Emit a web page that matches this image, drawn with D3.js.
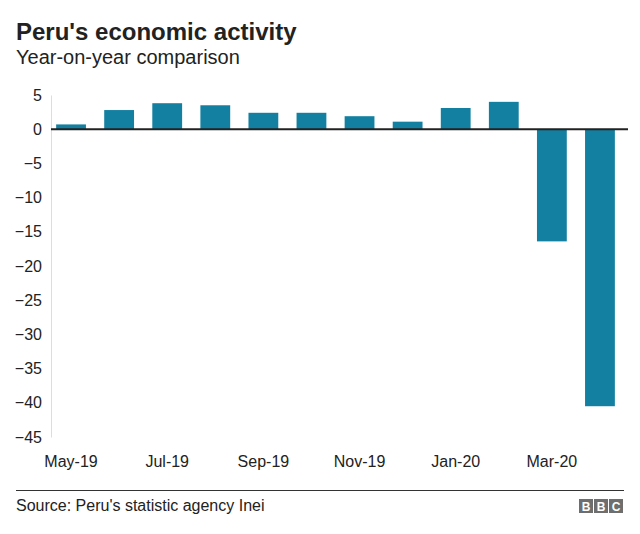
<!DOCTYPE html>
<html><head><meta charset="utf-8">
<script src="https://cdn.jsdelivr.net/npm/d3@7"></script>
<style>body{margin:0;background:#fff;}svg{display:block;font-family:"Liberation Sans",Arial,sans-serif;}</style>
</head><body>
<script>
const months = ["May-19","Jun-19","Jul-19","Aug-19","Sep-19","Oct-19","Nov-19","Dec-19","Jan-20","Feb-20","Mar-20","Apr-20"];
const values = [0.7, 2.8, 3.8, 3.5, 2.4, 2.4, 1.9, 1.1, 3.1, 4.0, -16.4, -40.5];
const yTicks = [5, 0, -5, -10, -15, -20, -25, -30, -35, -40, -45];
const xTickLabels = ["May-19","Jul-19","Sep-19","Nov-19","Jan-20","Mar-20"];

const W = 640, H = 534;
const svg = d3.select("body").append("svg").attr("width", W).attr("height", H);

svg.append("text").attr("x", 16).attr("y", 40).attr("font-size", 24).attr("font-weight", "bold").attr("fill", "#222").text("Peru's economic activity");
svg.append("text").attr("x", 16).attr("y", 64).attr("font-size", 20).attr("fill", "#222").text("Year-on-year comparison");

const y = d3.scaleLinear().domain([-45, 5]).range([437, 95]);
const x = d3.scaleBand().domain(months).range([47, 624]).paddingInner(0.38).paddingOuter(0.19);

// y axis
const yAxis = svg.append("g").attr("transform", "translate(51,0)")
  .call(d3.axisLeft(y).tickValues(yTicks).tickSize(0).tickPadding(9));
yAxis.select(".domain").attr("stroke", "#ddd");
yAxis.selectAll("text").attr("font-size", 16).attr("fill", "#222").attr("font-family", "Liberation Sans, Arial, sans-serif");

// bars
svg.append("g").selectAll("rect").data(values).join("rect")
  .attr("x", (d, i) => x(months[i]))
  .attr("width", x.bandwidth())
  .attr("y", d => y(Math.max(0, d)))
  .attr("height", d => Math.abs(y(d) - y(0)))
  .attr("fill", "#1380A1");

// zero line
svg.append("line").attr("x1", 51).attr("x2", 628).attr("y1", y(0)).attr("y2", y(0)).attr("stroke", "#222").attr("stroke-width", 2);

// x axis
const xAxis = svg.append("g").attr("transform", "translate(0,448)")
  .call(d3.axisBottom(x).tickValues(xTickLabels).tickSize(0).tickPadding(8));
xAxis.select(".domain").remove();
xAxis.selectAll("text").attr("font-size", 16).attr("fill", "#222").attr("font-family", "Liberation Sans, Arial, sans-serif");

// footer
svg.append("line").attr("x1", 16).attr("x2", 624).attr("y1", 490.5).attr("y2", 490.5).attr("stroke", "#333").attr("stroke-width", 1);
svg.append("text").attr("x", 16).attr("y", 511).attr("font-size", 16).attr("fill", "#222").text("Source: Peru's statistic agency Inei");

const logo = ["B","B","C"];
const lg = svg.append("g").attr("transform", "translate(579,499)");
logo.forEach((c, i) => {
  lg.append("rect").attr("x", i * 15).attr("y", 0).attr("width", 14).attr("height", 14).attr("fill", "#6e6e6e");
  lg.append("text").attr("x", i * 15 + 7).attr("y", 11.5).attr("text-anchor", "middle").attr("font-size", 12).attr("font-weight", "bold").attr("fill", "#fff").text(c);
});
</script>
</body></html>
